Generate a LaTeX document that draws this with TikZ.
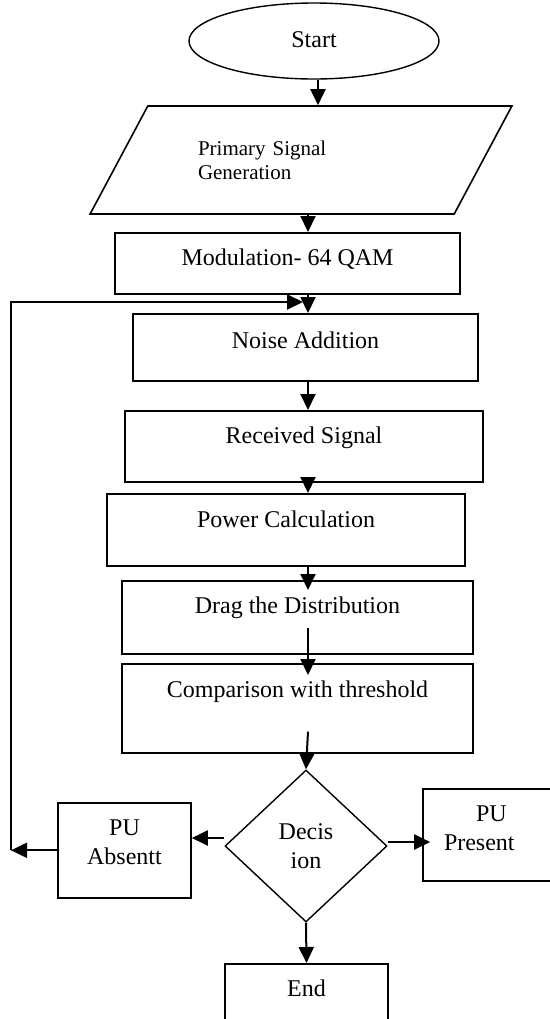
\documentclass[tikz,border=0pt]{standalone}
\usepackage{fontspec}
\setmainfont{Liberation Serif}
\usetikzlibrary{shapes.geometric, arrows.meta}

\tikzset{
  box/.style 2 args={draw, rectangle, line width=0.8pt, inner sep=0pt, anchor=north,
    text height=#1, text depth=#2},
  arr/.style={line width=1pt, -{Triangle[length=8pt,width=7.5pt]}}
}

\begin{document}
\begin{tikzpicture}[x=0.5pt, y=-0.5pt, font=\fontsize{12}{14.5}\selectfont]
\useasboundingbox (0,0) rectangle (550,1019);
\coordinate (spine) at (308,0);
\coordinate (back) at (11,302);

\node (start) at (314,41) [draw, ellipse, line width=0.7pt, inner sep=0pt,
  minimum width=125pt, minimum height=38pt, text height=8pt, text depth=2pt] {Start};
\node (gen) at (301,160) [draw, trapezium, trapezium left angle=45, trapezium right angle=135,
  trapezium stretches=true, line width=0.8pt, inner sep=0pt, minimum width=211pt, minimum height=54pt,
  text width=103pt, align=left, font=\fontsize{10.5}{12}\selectfont] {Primary Signal\\Generation};
\node (mod) at (287.5,232) [box={16.5pt}{14pt}, minimum width=172.5pt] {Modulation- 64 QAM};
\node (noise) at (305.5,313) [box={17.5pt}{16pt}, minimum width=172.5pt] {Noise Addition};
\node (recv) at (304,410) [box={16.5pt}{19pt}, minimum width=179pt] {Received Signal};
\node (power) at (286,493) [box={17pt}{19pt}, minimum width=179pt] {Power Calculation};
\node (drag) at (297.5,580) [box={16.5pt}{20pt}, minimum width=175.5pt] {Drag the Distribution};
\node (comp) at (297.5,663) [box={17pt}{27.5pt}, minimum width=175.5pt] {Comparison with threshold};
\node (dec) at (306,846) [draw, diamond, line width=0.7pt, inner sep=0pt,
  minimum width=81pt, minimum height=76pt, align=center] {Decis\\ion};
\node (absent) at (124.5,802) [box={16.5pt}{31pt}, minimum width=66.5pt,
  text width=66.5pt, align=center] {PU\\Absentt};
\node (present) at (491.5,788) [box={16.5pt}{29.5pt}, minimum width=68.5pt,
  text width=47.5pt, align=left] {\hspace*{16pt}PU\\Present};
\node (end) at (306.5,963) [box={16.5pt}{14.5pt}, minimum width=81.5pt] {End};

% main flow
\draw[arr] ([xshift=2pt]start.south) -- ([xshift=2pt]start.south |- gen.north);
\draw[arr] (spine |- gen.south) -- (spine |- mod.north);
\draw[arr] (spine |- mod.south) -- (spine |- noise.north);
\draw[arr] (spine |- noise.south) -- (spine |- recv.north);
\draw[arr] (spine |- recv.south) -- (spine |- power.north);
\draw[arr] (spine |- power.south) -- ([yshift=-5pt]spine |- drag.north);
\draw[arr] ([yshift=13.5pt]spine |- drag.south) -- ([yshift=-6pt]spine |- comp.north);
\draw[arr] ([yshift=11pt]spine |- comp.south) -- (dec.north);
\draw[arr] (dec.south) -- (end.north);

% decision branches
\draw[arr] ([yshift=4pt]dec.west) -- ([yshift=4pt]dec.west -| absent.east);
\draw[arr] ([yshift=2pt]dec.east) -- ([xshift=4pt,yshift=2pt]dec.east -| present.west);

% loop back
\draw[arr] (absent.west) -- (back |- absent.west);
\draw[arr] (back |- absent.west) -- (back) -- ([xshift=-2.5pt]spine |- back);
\end{tikzpicture}
\end{document}
